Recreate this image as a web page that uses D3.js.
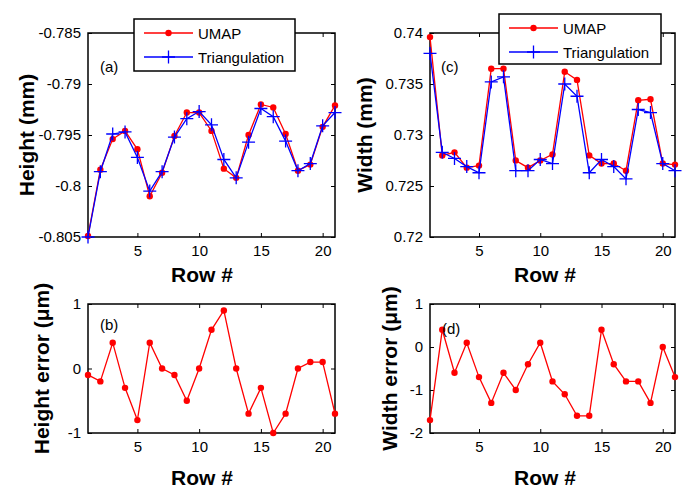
<!DOCTYPE html>
<html>
<head>
<meta charset="utf-8">
<script src="https://cdn.jsdelivr.net/npm/d3@7"></script>
<style>
  body { margin: 0; background: #fff; }
  svg { display: block; font-family: "Liberation Sans", Arial, sans-serif; }
</style>
</head>
<body>
<div id="fig"></div>
<script>
// row index along the sample
const rows = [1, 2, 3, 4, 5, 6, 7, 8, 9, 10, 11, 12, 13, 14, 15, 16, 17, 18, 19, 20, 21];

// (a) height in mm
const heightUmap = [-0.8049, -0.7984, -0.7954, -0.7946, -0.7964, -0.8010, -0.7987, -0.7951, -0.7928, -0.7928, -0.7946,
                    -0.7983, -0.7992, -0.7950, -0.7920, -0.7923, -0.7949, -0.7985, -0.7979, -0.7942, -0.7921];
const heightTri  = [-0.8050, -0.7986, -0.7949, -0.7947, -0.7972, -0.8005, -0.7986, -0.7952, -0.7934, -0.7927, -0.7940,
                    -0.7974, -0.7992, -0.7957, -0.7924, -0.7932, -0.7956, -0.7985, -0.7978, -0.7941, -0.7928];

// (c) width in mm
const widthUmap = [0.7396, 0.7280, 0.7283, 0.7268, 0.7270, 0.7365, 0.7365, 0.7275, 0.7268, 0.7275, 0.7281,
                   0.7362, 0.7354, 0.7280, 0.7272, 0.7272, 0.7265, 0.7334, 0.7335, 0.7272, 0.7271];
const widthTri  = [0.7380, 0.7283, 0.7277, 0.7269, 0.7263, 0.7352, 0.7357, 0.7265, 0.7265, 0.7276, 0.7272,
                   0.7350, 0.7338, 0.7263, 0.7276, 0.7269, 0.7257, 0.7325, 0.7322, 0.7272, 0.7265];

// (b), (d) errors in um
const heightErr = [-0.1, -0.2, 0.4, -0.3, -0.8, 0.4, 0, -0.1, -0.5, 0, 0.6, 0.9, 0, -0.7, -0.3, -1, -0.7, 0, 0.1, 0.1, -0.7];
const widthErr  = [-1.7, 0.4, -0.6, 0.1, -0.7, -1.3, -0.6, -1.0, -0.4, 0.1, -0.8, -1.1, -1.6, -1.6, 0.4, -0.4, -0.8, -0.8, -1.3, 0, -0.7];

// ticks
const rowTicks = [5, 10, 15, 20];
const heightTicks = [-0.805, -0.8, -0.795, -0.79, -0.785];
const widthTicks = [0.72, 0.725, 0.73, 0.735, 0.74];
const heightErrTicks = [-1, 0, 1];
const widthErrTicks = [-2, -1, 0, 1];

const seriesNames = ["UMAP", "Triangulation"];

const W = 683, H = 488;
const svg = d3.select("#fig").append("svg")
    .attr("width", W)
    .attr("height", H);

const fmt = d => String(+d.toFixed(3));

function drawPanel(p) {
    const x = d3.scaleLinear().domain([1, 21]).range([p.left, p.right]);
    const y = d3.scaleLinear().domain(p.yDomain).range([p.bottom, p.top]);
    const g = svg.append("g");

    // box
    g.append("rect")
        .attr("x", p.left).attr("y", p.top)
        .attr("width", p.right - p.left).attr("height", p.bottom - p.top)
        .attr("fill", "none").attr("stroke", "#000").attr("stroke-width", 1.5);

    const styleAxis = a => {
        a.select(".domain").remove();
        a.selectAll("line").attr("stroke", "#000").attr("stroke-width", 1);
        a.selectAll("text").attr("fill", "#000").style("font-size", "15px");
    };

    g.append("g").attr("transform", `translate(0,${p.bottom})`)
        .call(d3.axisBottom(x).tickValues(rowTicks).tickSize(-4).tickSizeOuter(0).tickPadding(8).tickFormat(d3.format("d")))
        .call(styleAxis);
    g.append("g").attr("transform", `translate(0,${p.top})`)
        .call(d3.axisTop(x).tickValues(rowTicks).tickSize(-4).tickSizeOuter(0).tickFormat(""))
        .call(styleAxis);
    g.append("g").attr("transform", `translate(${p.left},0)`)
        .call(d3.axisLeft(y).tickValues(p.yTicks).tickSize(-4).tickSizeOuter(0).tickPadding(7).tickFormat(fmt))
        .call(styleAxis);
    g.append("g").attr("transform", `translate(${p.right},0)`)
        .call(d3.axisRight(y).tickValues(p.yTicks).tickSize(-4).tickSizeOuter(0).tickFormat(""))
        .call(styleAxis);

    const line = d3.line().x((d, i) => x(rows[i])).y(d => y(d));

    p.series.forEach(s => {
        g.append("path")
            .datum(s.values)
            .attr("d", line)
            .attr("fill", "none")
            .attr("stroke", s.color)
            .attr("stroke-width", 1.3);
        if (s.marker === "dot") {
            g.selectAll(null).data(s.values).enter().append("circle")
                .attr("cx", (d, i) => x(rows[i]))
                .attr("cy", d => y(d))
                .attr("r", 3.2)
                .attr("fill", s.color);
        } else {
            g.selectAll(null).data(s.values).enter().append("path")
                .attr("d", (d, i) => {
                    const cx = x(rows[i]), cy = y(d);
                    return `M${cx - 6.5},${cy}H${cx + 6.5}M${cx},${cy - 6.5}V${cy + 6.5}`;
                })
                .attr("stroke", s.color)
                .attr("stroke-width", 1.3);
        }
    });

    // panel tag
    g.append("text")
        .attr("x", p.tag[1]).attr("y", p.tag[2])
        .style("font-size", "15px")
        .text(p.tag[0]);

    // axis titles
    g.append("text")
        .attr("x", p.xLabelX).attr("y", p.xLabelY)
        .attr("text-anchor", "middle")
        .style("font-size", "21px").style("font-weight", "bold")
        .text("Row #");
    g.append("text")
        .attr("transform", `translate(${p.yLabelX},${(p.top + p.bottom) / 2}) rotate(-90)`)
        .attr("text-anchor", "middle")
        .style("font-size", "21px").style("font-weight", "bold")
        .text(p.yLabel);

    if (p.legend) {
        const L = p.legend;
        g.append("rect")
            .attr("x", L.x).attr("y", L.y).attr("width", L.w).attr("height", L.h)
            .attr("fill", "#fff").attr("stroke", "#000").attr("stroke-width", 1.5);
        p.series.forEach((s, k) => {
            const ly = L.y + 14 + k * 24;
            const lx0 = L.x + 10, lx1 = L.x + 59, mx = (lx0 + lx1) / 2;
            g.append("line").attr("x1", lx0).attr("x2", lx1).attr("y1", ly).attr("y2", ly)
                .attr("stroke", s.color).attr("stroke-width", 1.3);
            if (s.marker === "dot") {
                g.append("circle").attr("cx", mx).attr("cy", ly).attr("r", 3.2).attr("fill", s.color);
            } else {
                g.append("path").attr("d", `M${mx - 6.5},${ly}H${mx + 6.5}M${mx},${ly - 6.5}V${ly + 6.5}`)
                    .attr("stroke", s.color).attr("stroke-width", 1.3);
            }
            g.append("text").attr("x", lx1 + 5).attr("y", ly + 5.5)
                .style("font-size", "15px").text(seriesNames[k]);
        });
    }
}

drawPanel({
    left: 88, top: 33, right: 335, bottom: 237,
    yDomain: [-0.805, -0.785], yTicks: heightTicks,
    series: [
        {values: heightUmap, color: "#ff0000", marker: "dot"},
        {values: heightTri, color: "#0000ff", marker: "plus"}
    ],
    tag: ["(a)", 100, 72],
    xLabelX: 202, xLabelY: 282,
    yLabelX: 34, yLabel: "Height (mm)",
    legend: {x: 134, y: 19, w: 161, h: 52}
});

drawPanel({
    left: 430, top: 33, right: 675, bottom: 237,
    yDomain: [0.72, 0.74], yTicks: widthTicks,
    series: [
        {values: widthUmap, color: "#ff0000", marker: "dot"},
        {values: widthTri, color: "#0000ff", marker: "plus"}
    ],
    tag: ["(c)", 441, 72],
    xLabelX: 545, xLabelY: 282,
    yLabelX: 372, yLabel: "Width (mm)",
    legend: {x: 499, y: 14, w: 162, h: 50}
});

drawPanel({
    left: 88, top: 304, right: 335, bottom: 433,
    yDomain: [-1, 1], yTicks: heightErrTicks,
    series: [{values: heightErr, color: "#ff0000", marker: "dot"}],
    tag: ["(b)", 100, 330],
    xLabelX: 202, xLabelY: 485,
    yLabelX: 49, yLabel: "Height error (\u03bcm)"
});

drawPanel({
    left: 430, top: 304, right: 675, bottom: 433,
    yDomain: [-2, 1], yTicks: widthErrTicks,
    series: [{values: widthErr, color: "#ff0000", marker: "dot"}],
    tag: ["(d)", 442, 334],
    xLabelX: 545, xLabelY: 485,
    yLabelX: 397, yLabel: "Width error (\u03bcm)"
});
</script>
</body>
</html>
